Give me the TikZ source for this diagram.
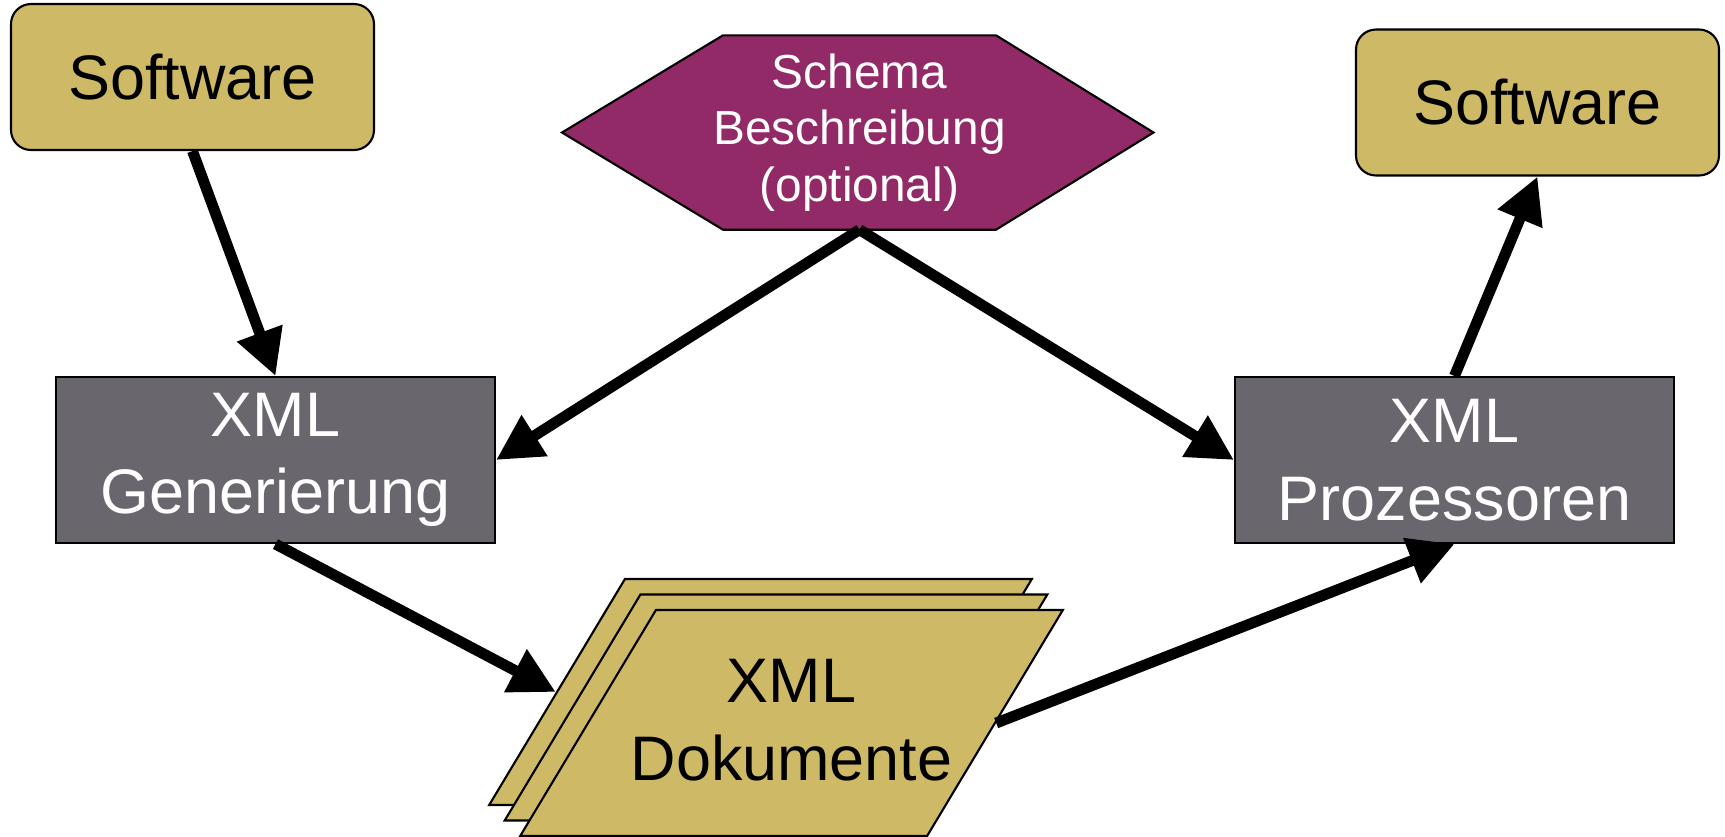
\documentclass[tikz,border=0pt]{standalone}
\usepackage{fontspec}
\setmainfont{Liberation Sans}
\usetikzlibrary{arrows.meta, shapes.geometric, backgrounds}
\definecolor{gold}{RGB}{206,185,102}
\definecolor{plum}{RGB}{147,42,104}
\definecolor{slate}{RGB}{106,102,110}
\newcommand\BoxFont{\fontsize{17.9}{22}\selectfont}

\begin{document}
\begin{tikzpicture}[
    soft/.style={draw, line width=0.6pt, fill=gold, rounded corners=0.2cm,
      minimum width=3.63cm, minimum height=1.46cm, font=\BoxFont},
    proc/.style={draw, line width=0.6pt, fill=slate, text=white, align=center,
      minimum width=4.39cm, minimum height=1.66cm, font=\BoxFont},
    sheet/.style={trapezium, trapezium left angle=63.4, trapezium right angle=116.6,
      trapezium stretches=true, draw, line width=0.6pt, fill=gold,
      minimum width=5.43cm, minimum height=2.26cm},
    flow/.style={-{Triangle[length=13pt, width=13pt]}, line width=3.1pt}
  ]
  \useasboundingbox (0,0) rectangle (17.25,-8.36);

  \node[soft] (swl) at (1.925,-0.77) {Software};
  \node[soft] (swr) at (15.375,-1.025) {Software};

  % schema hexagon
  \node[minimum height=1.93cm, inner xsep=0pt, text=white, align=center,
    font=\fontsize{13.6}{16}\selectfont] (schema) at (8.595,-1.325)
    {Schema\\Beschreibung\\(optional)};
  \begin{pgfonlayer}{background}
    \draw[line width=0.6pt, fill=plum] ([xshift=-1.365cm]schema.north)
      -- ([xshift=1.365cm]schema.north) -- ([xshift=2.94cm]schema.center)
      -- ([xshift=1.365cm]schema.south) -- ([xshift=-1.365cm]schema.south)
      -- ([xshift=-2.975cm]schema.center) -- cycle;
  \end{pgfonlayer}

  \node[proc] (gen) at (2.755,-4.6) {XML\\Generierung};
  \node[proc] (proz) at (14.545,-4.6) {XML\\Prozessoren};

  % stack of documents
  \foreach \a/\n in {0/back,1/mid,2/front}{
    \node[sheet] at (7.605+\a*0.155,-6.92-\a*0.155) (\n) {};
  }
  \node[align=center, font=\BoxFont] (doc) at ([yshift=0.03cm]front) {XML\\Dokumente};

  \draw[flow] (swl.south) -- (gen.north);
  \draw[flow] (schema.south) -- (gen.east);
  \draw[flow] (schema.south) -- (proz.west);
  \draw[flow] (gen.south) -- (back.west);
  \draw[flow] (front.east) -- (proz.south);
  \draw[flow] (proz.north) -- (swr.south);
\end{tikzpicture}
\end{document}
